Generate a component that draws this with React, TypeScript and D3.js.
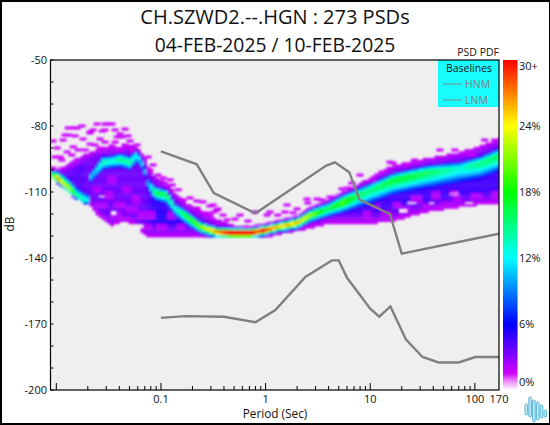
import React from "react";
import * as d3 from "d3";

const W = 550, H = 425;
const M = { l: 50.5, r: 499, t: 60, b: 390 };

const titleLines = ["CH.SZWD2.--.HGN : 273 PSDs", "04-FEB-2025 / 10-FEB-2025"];
const dbTicks = [-50, -80, -110, -140, -170, -200];
const periodLabels = [0.1, 1, 10, 100, 170];
const pctLabels = ["30+", "24%", "18%", "12%", "6%", "0%"];
const pctLabelValues = [29.5, 24, 18, 12, 6, 0.7];

const hnmPeriod = [0.1, 0.22, 0.32, 0.8, 3.8, 4.6, 6.3, 7.9, 15.4, 20, 170];
const hnmDb = [-91.5, -97.4, -110.5, -119.7, -98, -96.5, -101, -113.5, -120, -138, -129];
const lnmPeriod = [0.1, 0.17, 0.4, 0.8, 1.24, 2.4, 4.3, 5, 6, 10, 12.2, 15.6, 21.9, 31.6, 45, 70, 101, 154, 170];
const lnmDb = [-167.2, -166.4, -166.7, -169.2, -163.7, -148.6, -141.1, -141.1, -149, -163, -166.7, -162, -177, -185, -187.5, -187.5, -185, -185, -185];

// PDF ridge, one row per knot
const knotPeriod = [0.0087, 0.0101, 0.0116, 0.0135, 0.0154, 0.018, 0.0201, 0.021, 0.0234, 0.0279, 0.0339, 0.0405, 0.0506, 0.059, 0.0688, 0.075, 0.0877, 0.114, 0.136, 0.177, 0.236, 0.343, 0.51, 0.71, 1, 1.29, 2, 2.66, 3.9, 5.5, 7.6, 10, 16.5, 35, 72, 112, 172];
const ridgeDb = [-101.8, -103.6, -106.4, -109, -111.4, -113.6, -114.1, -103.6, -100.9, -96.4, -95.9, -95, -96.4, -93.2, -98.6, -105.9, -110, -111.4, -117.3, -120.9, -125.5, -128.2, -128.6, -128.6, -127.3, -125.9, -124, -120.5, -117.7, -114.5, -111.4, -109, -104.5, -100.9, -99.1, -96.8, -93.2];
const ridgePct = [14, 27, 24, 22, 16, 14, 12, 11, 11, 14, 13, 15, 15, 12, 11, 10, 17, 17, 13, 18, 21, 28, 34, 34, 32, 26, 26, 22, 16, 20, 16, 15, 17, 16, 13, 15, 16];
const sigmaUp = [1, 1.8, 2.5, 2.5, 2.5, 2.5, 2.5, 1.5, 1.8, 1.8, 1.8, 1.8, 1.8, 1.8, 1.5, 1.5, 1.5, 1.5, 1.5, 1.5, 1.3, 1.2, 1.2, 1.2, 1.2, 1.2, 1.3, 1.5, 1.8, 2, 2, 2, 2, 2, 2, 2, 2];
const sigmaDown = [1, 1, 1, 1, 1, 1, 1, 2, 2.5, 2.5, 2.5, 2.5, 2.5, 2.5, 2, 2, 2.5, 2.5, 2.5, 2.5, 2, 1.4, 1.3, 1.3, 1.3, 1.4, 1.6, 2, 2.5, 3, 4, 4.5, 4.5, 5, 5, 5, 5];
const massTopDb = [-100.9, -100, -98.2, -96.8, -95, -93.2, -92.3, -91.8, -90.9, -90, -89.5, -89.1, -88.6, -89.5, -93.2, -98.2, -102.7, -105.9, -110, -115, -118.2, -122.3, -125, -125.5, -124.5, -124, -121.8, -117.7, -114.5, -111.8, -106.4, -103.2, -97.7, -94.5, -91.8, -89.1, -85.5];
const massBotDb = [-103.2, -105.5, -108.2, -110.9, -113.2, -115, -115.5, -115.9, -119.1, -122.7, -125.5, -123.6, -124, -125.5, -129.5, -130.5, -130.5, -130.5, -130.5, -130.5, -130.5, -130.5, -130.5, -130.5, -130.5, -129.5, -127.7, -126.4, -124.5, -124.5, -124.5, -124.5, -123.2, -119.1, -116.8, -115.9, -115];
const massPct = [3.5, 3.5, 4, 4, 4, 4, 3.5, 3.5, 3.5, 3.5, 3.5, 3.5, 3.5, 3.5, 3.5, 4, 5, 5, 5, 5.5, 5.5, 5, 5, 5, 5, 4.5, 4.5, 4, 4, 4, 4.5, 4.5, 4.5, 4.5, 4.5, 4.5, 4.5];

// isolated low-probability cells
const sparsePeriod = [0.0158, 0.0176, 0.0245, 0.0292, 0.0341, 0.0225, 0.0292, 0.0365, 0.0454, 0.021, 0.013, 0.0151, 0.0116, 0.018, 0.0262, 0.0425, 0.0485, 0.0093, 0.0365, 0.0507, 0.0102, 0.021, 0.0591, 0.0127, 0.0097, 0.0109, 0.0091, 0.0145, 0.0753, 0.0841, 0.105, 0.128, 0.163, 0.221, 0.294, 0.343, 0.221, 0.275, 0.315, 0.351, 0.392, 0.294, 0.51, 0.428, 0.679, 1.1, 1.6, 2.0, 2.49, 3.1, 1.03, 1.31, 1.83, 5.37, 4.12, 2.54, 0.664, 16.5, 12.9, 22.4, 83.9, 95.6, 155, 10.6, 15.4,
  0.013, 0.0145, 0.021, 0.0275, 0.0382, 0.0407, 0.0121, 0.0311, 0.0234, 0.0292, 0.0341, 0.0454, 0.0262, 0.0407, 0.053, 0.0162, 0.0141, 0.0113, 0.0189,
  0.0785, 0.0938, 0.122, 0.146, 0.19, 0.252, 0.321, 0.569, 0.792, 1.53, 3.45, 6.68, 6.1, 7.98, 26.7, 46.3, 64.4, 124];
const sparseDb = [-80.9, -80, -79.1, -79.1, -79.1, -81.8, -81.8, -81.8, -81.4, -83.2, -84.1, -84.5, -86.4, -85.9, -85.9, -85, -84.5, -86.8, -87.3, -86.8, -90, -88.2, -88.6, -91.8, -94.1, -94.1, -99.1, -89.5, -94.1, -97.7, -103.6, -106.8, -113.6, -114.1, -116.4, -118.2, -117.3, -119.5, -115.9, -117.7, -120.5, -120.5, -122.3, -122.7, -123.2, -119.1, -115.9, -117.7, -113.2, -113.2, -120.5, -120.5, -119.5, -108.6, -112.3, -115, -125.9, -96.8, -100.9, -97.7, -92.3, -93.2, -86.4, -104.5, -96.4,
  -80.9, -80.9, -82.7, -82.3, -85, -83.6, -84.1, -79.1, -88.6, -87.3, -89.1, -88.6, -90, -90.9, -90.9, -90.9, -93.2, -95.5, -90.9,
  -100, -102.3, -104.5, -109, -112.7, -114.5, -119.1, -120.5, -119.1, -119.1, -113.6, -105.9, -108.2, -102.3, -95.5, -90.9, -90.9, -86.4];

const holePeriod = [37, 60, 23.9, 20, 84, 0.0341, 0.0262, 0.059];
const holeDb = [-115, -110.5, -115, -118.2, -115, -119.5, -112, -125.5];

// thinner patches inside the purple mass
const thinPeriod = [0.0234, 0.0262, 0.0311, 0.0389, 0.0454, 0.0507, 0.0365, 0.0454, 0.0568, 0.063, 0.0327, 0.07, 0.0785, 0.098, 0.122, 0.152, 8.9, 11.1, 13.8, 17.2, 21.4, 26.7, 33.3, 41.5, 51.7, 64.4, 80.2, 100, 124, 155];
const thinDb = [-109, -115.9, -111.4, -115.9, -109, -118.2, -120.5, -123.6, -113.6, -120.5, -104.5, -125.7, -120.5, -125.7, -120.5, -125.7, -120.5, -115.9, -120.5, -115.9, -118.2, -113.6, -116.8, -111.4, -115.9, -112.7, -117.3, -112.3, -115.9, -111.4];

const logoTop = [404, 397, 400, 402, 405, 410];
const logoBot = [415, 417, 422, 420, 418, 417];

const colorStops = [0, 0.8, 1.5, 3, 6, 9, 12, 15, 18, 21, 24, 27, 30];
const colorValues = ["#ffffff", "#ee88ff", "#d000ff", "#8a00ff", "#0000ff", "#0080ff", "#00ffff", "#00ff80", "#00ff00", "#80ff00", "#ffff00", "#ff8000", "#ff0000"];

const x = d3.scaleLog().domain([0.0088, 170]).range([M.l, M.r]);
const y = d3.scaleLinear().domain([-50, -200]).range([M.t, M.b]);
const color = d3.scaleLinear<string>().domain(colorStops).range(colorValues).clamp(true);
const barY = d3.scaleLinear().domain([30, 0]).range([M.t, M.b]);

const at = (vals: number[]) => d3.scaleLog().domain(knotPeriod).range(vals).clamp(true);
const ridgeAt = at(ridgeDb), pctAt = at(ridgePct), upAt = at(sigmaUp), downAt = at(sigmaDown);
const topAt = at(massTopDb), botAt = at(massBotDb), massAt = at(massPct);

const colStep = 3;
const cells: { x: number; y: number; f: string }[] = [];
for (let px = M.l; px < M.r; px += colStep) {
  const p = x.invert(px + colStep / 2);
  const ridge = ridgeAt(p), peak = pctAt(p), top = topAt(p), bot = botAt(p), mass = massAt(p);
  for (let db = Math.ceil(top) + 1; db >= Math.floor(bot) - 1; db -= 1) {
    const d = db - ridge;
    const s = d > 0 ? upAt(p) : downAt(p);
    let v = peak * Math.exp(-0.5 * (d / s) * (d / s));
    if (db <= top && db >= bot) {
      const isHole = holePeriod.some((hp, i) => Math.abs(x(hp) - px) < 4 && Math.abs(holeDb[i] - db) < 1);
      const isThin = thinPeriod.some((hp, i) => Math.abs(x(hp) - px) < 5 && Math.abs(thinDb[i] - db) < 1.6);
      if (!isHole) {
        const edge = Math.min(top - db, db - bot);
        const m = Math.min(mass, 1.6 + edge * 0.5);
        v = Math.max(v, isThin ? Math.min(m, 2.2) : m);
      }
    }
    if (db < bot) v = 0;
    if (v > 0.6) cells.push({ x: px, y: y(db) - 1.1, f: color(v) });
  }
}

function line(ps: number[], ds: number[]) {
  return d3.line<number>().x((p) => x(p)).y((_, i) => y(ds[i]))(ps) ?? "";
}

const textStyle = { fontFamily: "'Open Sans', sans-serif", fill: "#111" };
const majorP = [0.01, 0.1, 1, 10, 100];
const minorP: number[] = [];
[0.01, 0.1, 1, 10, 100].forEach((d) => d3.range(1, 10).forEach((k) => { const v = d * k; if (v <= 170 && v >= 0.0088) minorP.push(v); }));

export default function App() {
  const barCells = d3.range(M.t, M.b, 1);
  return (
    <svg width={W} height={H} style={{ position: "fixed", left: 0, top: 0, background: "#000" }} viewBox={`0 0 ${W} ${H}`}>
      <defs>
        <filter id="soft" x="-5%" y="-5%" width="110%" height="110%">
          <feGaussianBlur stdDeviation="0.8" />
        </filter>
        <clipPath id="plot"><rect x={M.l} y={M.t} width={M.r - M.l} height={M.b - M.t} /></clipPath>
      </defs>
      <rect x={2} y={2} width={W - 3} height={H - 4} fill="#fff" />
      {titleLines.map((t, i) => (
        <text key={t} x={275} y={i === 0 ? 24 : 52} textAnchor="middle" fontSize={i === 0 ? 20 : 19.3} style={textStyle}>{t}</text>
      ))}
      <rect x={M.l} y={M.t} width={M.r - M.l} height={M.b - M.t} fill="#efefef" />
      <g clipPath="url(#plot)">
        <g filter="url(#soft)">
          {cells.map((c, i) => (
            <rect key={i} x={c.x} y={c.y} width={colStep + 0.4} height={2.5} fill={c.f} />
          ))}
          {sparsePeriod.map((p, i) => (
            <rect key={i} x={x(p) - 3.5} y={y(sparseDb[i]) - 1.5} width={7} height={3} fill={color(1.6)} />
          ))}
        </g>
        <path d={line(hnmPeriod, hnmDb)} fill="none" stroke="#808080" strokeWidth={2.4} />
        <path d={line(lnmPeriod, lnmDb)} fill="none" stroke="#808080" strokeWidth={2.4} />
      </g>
      <rect x={438} y={M.t} width={61} height={47} fill="#19ffff" />
      <text x={469} y={72} textAnchor="middle" fontSize={10.5} style={textStyle}>Baselines</text>
      {["HNM", "LNM"].map((n, i) => (
        <g key={n}>
          <line x1={443} x2={462} y1={84 + i * 16} y2={84 + i * 16} stroke="#808080" />
          <text x={465} y={88 + i * 16} fontSize={10.5} style={{ ...textStyle, fill: "#808080" }}>{n}</text>
        </g>
      ))}
      <rect x={M.l} y={M.t} width={M.r - M.l} height={M.b - M.t} fill="none" stroke="#000" strokeWidth={1.2} />
      {d3.range(-50, -201, -10).map((d) => (
        <line key={d} x1={M.l} x2={M.l + 3} y1={y(d)} y2={y(d)} stroke="#000" />
      ))}
      {dbTicks.map((d) => (
        <text key={d} x={47} y={y(d) + 4} textAnchor="end" fontSize={11} style={textStyle}>{d}</text>
      ))}
      {minorP.map((p) => (
        <line key={p} x1={x(p)} x2={x(p)} y1={M.b} y2={M.b - (majorP.includes(p) ? 7 : 4)} stroke="#000" />
      ))}
      {periodLabels.map((p) => (
        <text key={p} x={x(p)} y={403} textAnchor="middle" fontSize={11} style={textStyle}>{p}</text>
      ))}
      <text x={275} y={418} textAnchor="middle" fontSize={11.8} style={textStyle}>Period (Sec)</text>
      <text transform="translate(14,224) rotate(-90)" textAnchor="middle" fontSize={11.8} style={textStyle}>dB</text>
      <text x={499} y={56} textAnchor="end" fontSize={10.5} style={textStyle}>PSD PDF</text>
      {barCells.map((py) => (
        <rect key={py} x={503} y={py} width={14.5} height={1.2} fill={color(barY.invert(py + 0.5))} />
      ))}
      {pctLabels.map((l, i) => (
        <text key={l} x={519} y={barY(pctLabelValues[i]) + 4} fontSize={11} style={textStyle}>{l}</text>
      ))}
      {logoTop.map((t, i) => (
        <rect key={i} x={525 + i * 3.8} y={t} width={2.6} height={logoBot[i] - t} rx={1.3} fill="#c6ecf6" stroke="#46aecf" strokeWidth={0.9} />
      ))}
    </svg>
  );
}
